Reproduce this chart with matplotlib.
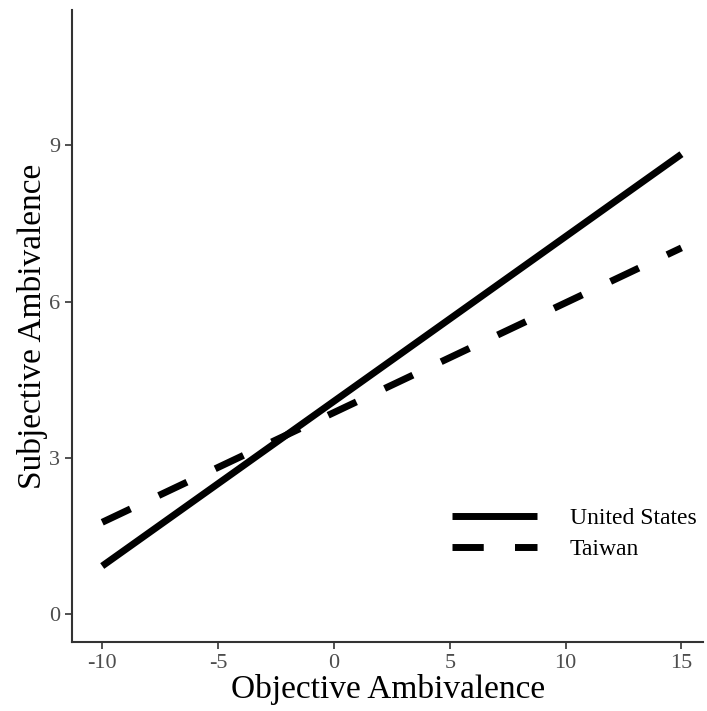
import numpy as np
import matplotlib.pyplot as plt

# 数据：两条回归线的端点
x_vals = [-10, 15]
us_vals = [0.92, 8.83]
tw_vals = [1.76, 7.03]
labels = ['United States', 'Taiwan']

plt.rcParams['font.family'] = ['Liberation Serif', 'DejaVu Serif']
plt.rcParams['axes.unicode_minus'] = False

fig = plt.figure(figsize=(7.07, 7.11), dpi=100)
ax = fig.add_axes([0.102, 0.097, 0.893, 0.889])

ax.plot(x_vals, us_vals, color='black', lw=5, solid_capstyle='butt', label=labels[0])
ax.plot(x_vals, tw_vals, color='black', lw=5, dashes=(4.5, 4.5), dash_capstyle='butt', label=labels[1])

ax.set_xlim(-11.3, 15.95)
ax.set_ylim(-0.54, 11.6)
ax.set_xticks([-10, -5, 0, 5, 10, 15])
ax.set_yticks([0, 3, 6, 9])

for side in ['top', 'right']:
    ax.spines[side].set_visible(False)
for side in ['left', 'bottom']:
    ax.spines[side].set_color('#333333')
    ax.spines[side].set_linewidth(1.5)

ax.tick_params(colors='#333333', labelcolor='#4d4d4d', labelsize=16, length=5, width=1.2)
ax.set_xlabel('Objective Ambivalence', fontsize=24, labelpad=1)
ax.set_ylabel('Subjective Ambivalence', fontsize=24, labelpad=1)

fig.legend(loc='center left', bbox_to_anchor=(452 / 707, 1 - 534 / 711), frameon=False, fontsize=17,
           handlelength=3.6, handletextpad=1.4, labelspacing=0.4, borderaxespad=0, borderpad=0)

plt.savefig('out.png', dpi=100)
